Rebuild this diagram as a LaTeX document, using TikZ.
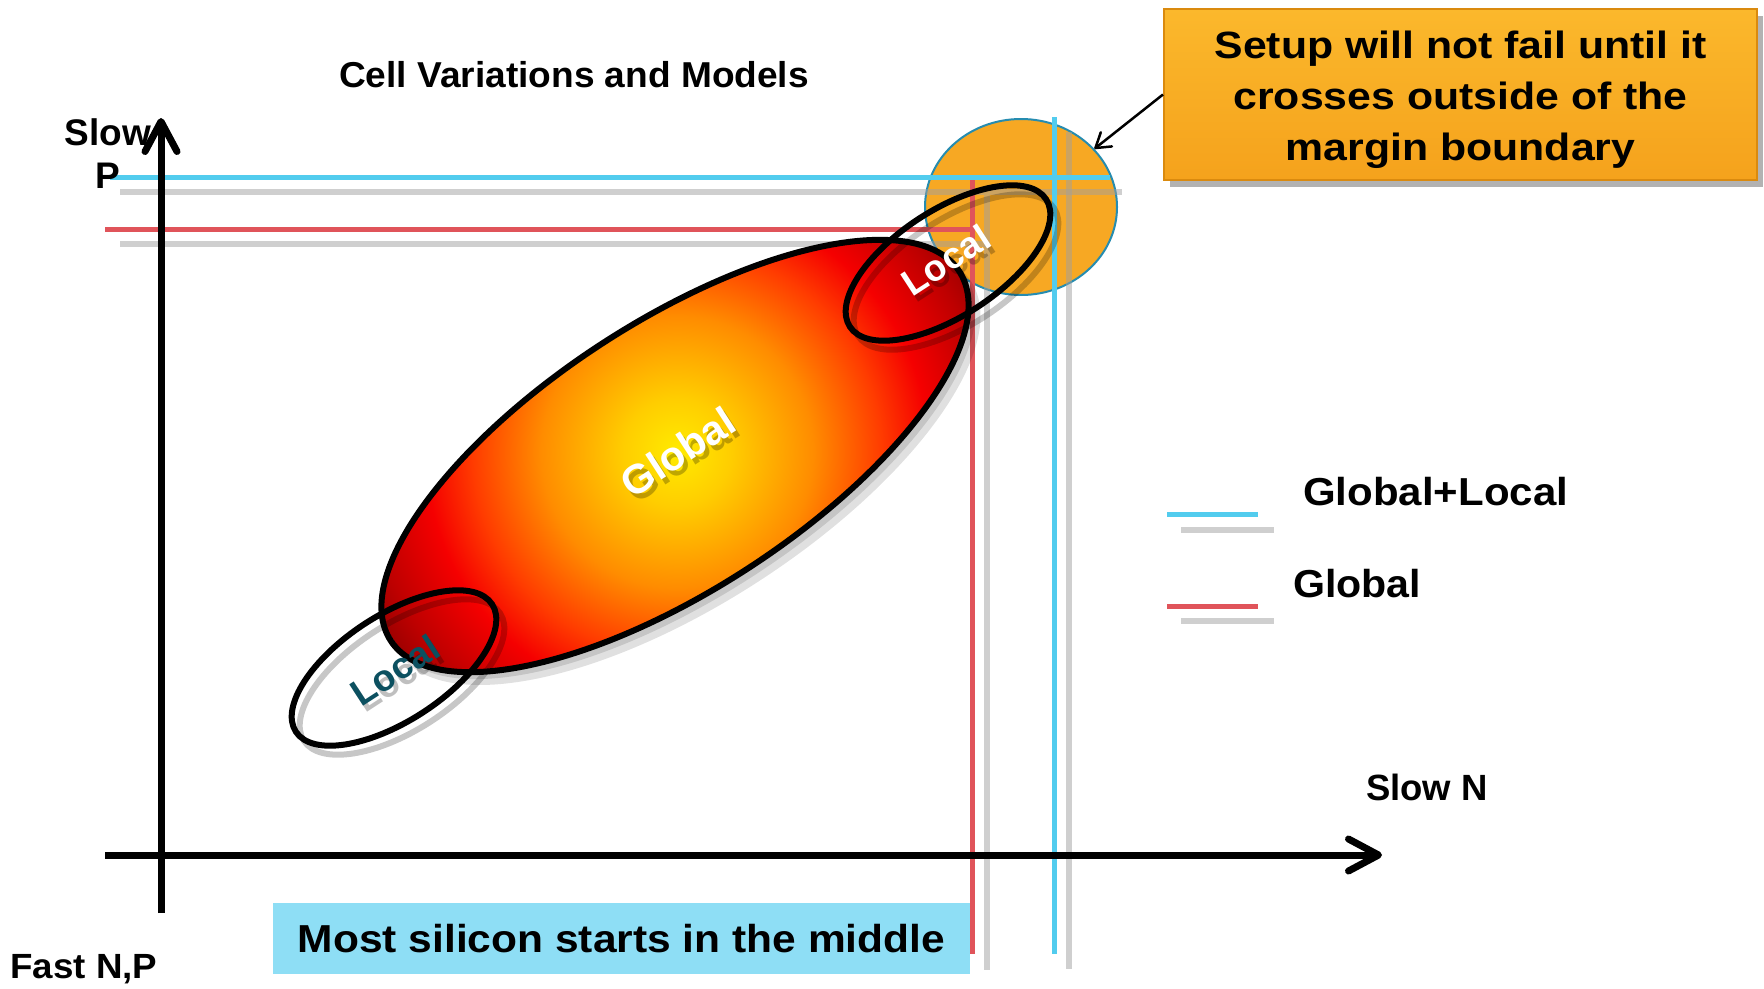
\documentclass[tikz,border=0pt]{standalone}
\usepackage{fontspec}
\setmainfont{Liberation Sans}
\usetikzlibrary{arrows.meta,shapes.geometric}

\definecolor{lineCyan}{RGB}{82,204,238}
\definecolor{lineRed}{RGB}{224,84,90}
\definecolor{lineGray}{RGB}{160,160,160}
\definecolor{boxTop}{RGB}{251,184,44}
\definecolor{boxBottom}{RGB}{245,162,28}
\definecolor{boxEdge}{RGB}{218,138,14}
\definecolor{circOrange}{RGB}{247,168,35}
\definecolor{circEdge}{RGB}{38,140,176}
\definecolor{noteCyan}{RGB}{142,222,245}
\definecolor{localTeal}{RGB}{12,80,96}
\definecolor{glowA}{RGB}{255,235,0}
\definecolor{glowB}{RGB}{255,205,0}
\definecolor{glowC}{RGB}{255,140,0}
\definecolor{glowD}{RGB}{255,60,0}
\definecolor{glowE}{RGB}{245,0,0}
\definecolor{glowF}{RGB}{190,0,0}
\definecolor{glowG}{RGB}{160,0,0}

\pgfdeclareradialshading{globalglow}{\pgfpoint{0bp}{0bp}}{%
  color(0bp)=(glowA); color(4bp)=(glowB); color(10bp)=(glowC);
  color(15bp)=(glowD); color(18.5bp)=(glowE); color(23bp)=(glowF);
  color(25bp)=(glowG); color(50bp)=(glowG)}

\newcommand{\txt}[2]{\fontsize{#1}{#2}\selectfont\bfseries}

\begin{document}
\begin{tikzpicture}[x=1pt,y=-1pt,
  lbl/.style={inner sep=0pt, anchor=base},
  shadowline/.style={draw=lineGray, opacity=0.5, line width=6},
  cyanline/.style={draw=lineCyan, line width=5},
  redline/.style={draw=lineRed, line width=5},
  axis/.style={line width=7, -{Straight Barb[length=30pt,width=32pt,round]}},
  ringshadow/.style={draw=black, opacity=0.22, line width=6},
  ring/.style={draw=black, line width=6},
  margin circle/.style={ellipse, draw=circEdge, line width=2, fill=circOrange,
    minimum width=192, minimum height=176, inner sep=0pt},
  setup box/.style={rectangle, draw=boxEdge, line width=2, top color=boxTop,
    bottom color=boxBottom, minimum width=593, minimum height=171, inner sep=0pt},
  note box/.style={rectangle, fill=noteCyan, minimum width=697, minimum height=71,
    inner sep=0pt, font=\txt{39}{47}}
]
\useasboundingbox (0,0) rectangle (1764,988);

% margin region around the upper corner
\node[margin circle] (margin) at (1021,207) {};

% corner boundaries with their grey shadows
\draw[shadowline] (120,192) -- (1122,192);
\draw[shadowline] (1069,132) -- (1069,969);
\draw[shadowline] (120,244) -- (987,244);
\draw[shadowline] (987,195) -- (987,970);
\draw[cyanline] (110,177) -- (1110,177);
\draw[cyanline] (1054,117) -- (1054,954);
\draw[redline] (105,229) -- (972,229);
\draw[redline] (972,180) -- (972,954);

% axis labels
\node[lbl] (slow) at (108,145) {\txt{37}{44}Slow};
\node[lbl] (slowp) at (108,188) {\txt{37}{44}P};
\node[lbl, xscale=1.05] (fast) at (84,978) {\txt{35}{42}Fast N,P};
\node[lbl] (slown) at (1427,800) {\txt{36.5}{44}Slow N};

% axes
\coordinate (ybot) at (161,913);
\coordinate (ytop) at (161,118);
\coordinate (xleft) at (105,855);
\coordinate (xright) at (1382,855);
\draw[axis] (ybot) -- (ytop);
\draw[axis] (xleft) -- (xright);

% global distribution
\fill[black, opacity=0.12, rotate around={33:(685,467)}] (685,467) ellipse (341 and 136);
\fill[black, opacity=0.12, rotate around={33:(681,462)}] (681,462) ellipse (340 and 135);
\begin{scope}
  \clip[rotate around={33:(675,456)}] (675,456) ellipse (339 and 134);
  \shade[shading=globalglow] (677,452) circle (340);
\end{scope}
\draw[ring, rotate around={33:(675,456)}] (675,456) ellipse (339 and 134);

% local distributions
\draw[ringshadow, rotate around={33:(956,272)}] (956,272) ellipse (117 and 53);
\draw[ring, rotate around={33:(948,263)}] (948,263) ellipse (117 and 53);
\draw[ringshadow, rotate around={33:(402,677)}] (402,677) ellipse (117 and 53);
\draw[ring, rotate around={33:(394,668)}] (394,668) ellipse (117 and 53);

% labels on the distributions
\node[inner sep=0pt, rotate=33, text=black, opacity=0.25] at (682,457) {\txt{41}{48}Global};
\node[inner sep=0pt, rotate=33, text=white] (global) at (678,452) {\txt{41}{48}Global};
\node[inner sep=0pt, rotate=33, text=black, opacity=0.25] at (950,266) {\txt{37}{44}Local};
\node[inner sep=0pt, rotate=33, text=white] (localtop) at (946,260) {\txt{37}{44}Local};
\node[inner sep=0pt, rotate=33, text=black, opacity=0.25] at (399,676) {\txt{37}{44}Local};
\node[inner sep=0pt, rotate=33, text=localTeal] (localbot) at (395,670) {\txt{37}{44}Local};

% title
\node[lbl, xscale=1.03] (title) at (574,87) {\txt{36}{43}Cell Variations and Models};

% legend
\draw[shadowline] (1181,530) -- (1274,530);
\draw[cyanline] (1167,514) -- (1258,514);
\draw[shadowline] (1181,621) -- (1274,621);
\draw[redline] (1167,606) -- (1258,606);
\node[lbl, anchor=base west, xscale=1.077] (leggl) at (1303,505) {\txt{39}{47}Global+Local};
\node[lbl, anchor=base west, xscale=1.055] (legg) at (1293,597) {\txt{39}{47}Global};

% callout
\fill[black, opacity=0.3] (1170,16) rectangle (1763,187);
\node[setup box] (setup) at (1460.5,94.5) {};
\node[inner sep=0pt, align=center, xscale=1.126, font=\txt{38}{51}] (setuptext) at (1460.5,100)
  {Setup will not fail until it\\crosses outside of the\\margin boundary};
\draw[line width=2.5, -{Straight Barb[length=14pt,width=18pt,round]}] (setup.west) -- (margin);

% note at the bottom
\node[note box] (note) at (621.5,938.5) {\scalebox{1.09}[1]{Most silicon starts in the middle}};
\end{tikzpicture}
\end{document}
